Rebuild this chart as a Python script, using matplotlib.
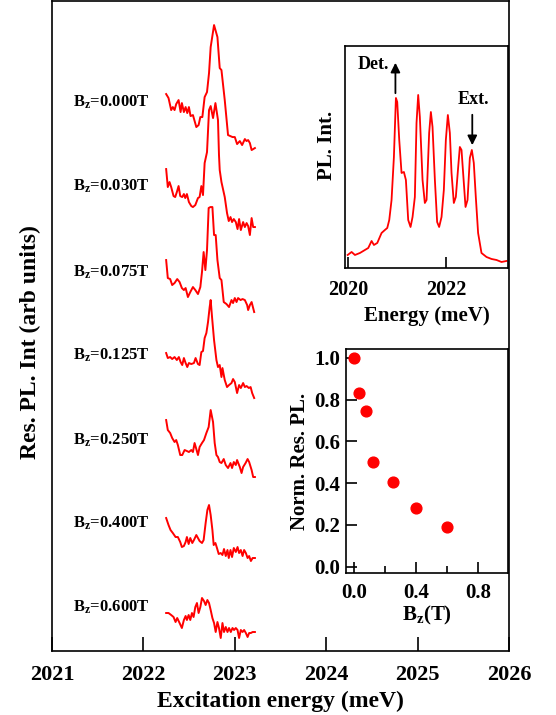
import matplotlib
matplotlib.use("Agg")
import matplotlib.pyplot as plt
import numpy as np

plt.rcParams['font.family'] = ['Liberation Serif', 'DejaVu Serif']
plt.rcParams['font.weight'] = 'bold'
plt.rcParams['mathtext.fontset'] = 'custom'
plt.rcParams['mathtext.rm'] = 'Liberation Serif:bold'
plt.rcParams['mathtext.bf'] = 'Liberation Serif:bold'
plt.rcParams['mathtext.it'] = 'Liberation Serif:bold'

RED = '#ff0000'

# ---- resonant PL traces (excitation energy in meV, intensity in arb units) ----
fields = ['0.000', '0.030', '0.075', '0.125', '0.250', '0.400', '0.600']
offsets = [549, 465, 379, 296, 211, 128, 44]

e_000 = [2022.249, 2022.275, 2022.304, 2022.322, 2022.341, 2022.359, 2022.385, 2022.407, 2022.421, 2022.443,
         2022.462, 2022.480, 2022.498, 2022.516, 2022.542, 2022.579, 2022.604, 2022.623, 2022.645, 2022.670,
         2022.696, 2022.718, 2022.736, 2022.773, 2022.810, 2022.835, 2022.854, 2022.890, 2022.926, 2022.975,
         2023.000, 2023.025, 2023.055, 2023.080, 2023.110, 2023.128, 2023.146, 2023.165, 2023.184, 2023.220]
i_000 = [8, 4, -8, -5, -8, -2, 2, -10, -1, -10, -5, -11, -5, -14, -13, -25, -23, -15, -15, 5,
         10, 29, 55, 77, 65, 34, 32, 2, -33, -35, -35, -42, -39, -43, -37, -39, -38, -41, -48, -46]

e_030 = [2022.249, 2022.267, 2022.286, 2022.304, 2022.330, 2022.348, 2022.366, 2022.385, 2022.403, 2022.425,
         2022.443, 2022.458, 2022.476, 2022.498, 2022.524, 2022.542, 2022.568, 2022.597, 2022.615, 2022.634,
         2022.652, 2022.670, 2022.689, 2022.696, 2022.718, 2022.736, 2022.762, 2022.788, 2022.816, 2022.827,
         2022.835, 2022.854, 2022.890, 2022.915, 2022.934, 2022.953, 2022.970, 2022.989, 2023.011, 2023.030,
         2023.047, 2023.066, 2023.091, 2023.110, 2023.129, 2023.146, 2023.165, 2023.184, 2023.201, 2023.220]
i_030 = [17, -1, 4, -1, -10, -11, -6, 0, -10, -11, -8, -12, -8, -16, -20, -21, -19, -12, -11, 0,
         -9, 23, 31, 34, 76, 80, 68, 83, 66, 31, 16, 4, -11, -27, -35, -31, -36, -33, -36, -43,
         -33, -44, -36, -41, -37, -40, -49, -32, -41, -41]

e_075 = [2022.249, 2022.267, 2022.293, 2022.315, 2022.341, 2022.370, 2022.396, 2022.421, 2022.443, 2022.462,
         2022.487, 2022.513, 2022.542, 2022.568, 2022.597, 2022.623, 2022.641, 2022.659, 2022.678, 2022.696,
         2022.714, 2022.733, 2022.755, 2022.773, 2022.791, 2022.810, 2022.835, 2022.854, 2022.879, 2022.909,
         2022.937, 2022.964, 2022.981, 2023.000, 2023.019, 2023.036, 2023.063, 2023.085, 2023.110, 2023.135,
         2023.146, 2023.165, 2023.184, 2023.212]
i_075 = [12, -6, -7, -13, -11, -7, -10, -16, -18, -16, -25, -20, -15, -18, -22, -15, 0, 20, 2, 22,
         64, 65, 65, 37, 37, 12, -6, -8, -30, -32, -35, -28, -31, -26, -30, -26, -28, -27, -28, -33,
         -38, -33, -30, -40]

e_125 = [2022.249, 2022.267, 2022.293, 2022.315, 2022.341, 2022.366, 2022.388, 2022.407, 2022.425, 2022.443,
         2022.462, 2022.480, 2022.498, 2022.524, 2022.553, 2022.571, 2022.597, 2022.615, 2022.634, 2022.652,
         2022.670, 2022.689, 2022.707, 2022.725, 2022.736, 2022.751, 2022.773, 2022.799, 2022.816, 2022.835,
         2022.854, 2022.865, 2022.890, 2022.915, 2022.937, 2022.964, 2022.981, 2023.000, 2023.025, 2023.047,
         2023.066, 2023.091, 2023.110, 2023.129, 2023.154, 2023.173, 2023.190, 2023.212]
i_125 = [2, -3, -2, -4, -2, -5, -2, -7, -10, -3, -8, -12, -8, -9, -8, -3, -9, -10, 3, 4,
         17, 22, 33, 48, 55, 38, 15, -5, -12, -10, -22, -13, -25, -32, -30, -28, -24, -27, -38, -30,
         -33, -28, -32, -31, -33, -32, -38, -43]

e_250 = [2022.249, 2022.267, 2022.293, 2022.315, 2022.341, 2022.359, 2022.377, 2022.403, 2022.425, 2022.451,
         2022.476, 2022.498, 2022.524, 2022.542, 2022.560, 2022.579, 2022.597, 2022.615, 2022.641, 2022.663,
         2022.689, 2022.714, 2022.736, 2022.762, 2022.780, 2022.799, 2022.816, 2022.835, 2022.854, 2022.879,
         2022.901, 2022.926, 2022.953, 2022.970, 2022.989, 2023.011, 2023.025, 2023.055, 2023.074, 2023.091,
         2023.118, 2023.140, 2023.157, 2023.184, 2023.201, 2023.220]
i_250 = [20, 10, 7, 2, -2, 0, -5, -15, -15, -10, -11, -12, -10, -12, -3, -9, -15, -7, -3, 0,
         7, 13, 30, 18, -3, -15, -17, -22, -23, -19, -25, -28, -23, -28, -22, -25, -20, -27, -33, -27,
         -23, -19, -22, -30, -37, -37]

e_400 = [2022.249, 2022.275, 2022.297, 2022.322, 2022.352, 2022.377, 2022.403, 2022.421, 2022.443, 2022.462,
         2022.476, 2022.495, 2022.513, 2022.535, 2022.553, 2022.579, 2022.597, 2022.615, 2022.641, 2022.659,
         2022.681, 2022.700, 2022.718, 2022.736, 2022.755, 2022.769, 2022.788, 2022.805, 2022.824, 2022.846,
         2022.865, 2022.882, 2022.901, 2022.920, 2022.934, 2022.953, 2022.970, 2022.989, 2023.011, 2023.030,
         2023.047, 2023.066, 2023.085, 2023.102, 2023.121, 2023.140, 2023.157, 2023.176, 2023.195, 2023.220]
i_400 = [5, -2, -7, -10, -14, -14, -19, -24, -23, -19, -14, -21, -15, -20, -17, -12, -15, -18, -20, -17,
         0, 13, 18, 8, -7, -22, -20, -25, -31, -30, -32, -26, -33, -27, -35, -27, -34, -25, -29, -24,
         -30, -27, -33, -27, -30, -35, -33, -38, -35, -35]

e_600 = [2022.249, 2022.275, 2022.304, 2022.330, 2022.352, 2022.370, 2022.396, 2022.421, 2022.443, 2022.462,
         2022.476, 2022.495, 2022.513, 2022.531, 2022.549, 2022.568, 2022.586, 2022.604, 2022.623, 2022.641,
         2022.663, 2022.681, 2022.700, 2022.718, 2022.736, 2022.755, 2022.773, 2022.791, 2022.810, 2022.827,
         2022.846, 2022.865, 2022.882, 2022.901, 2022.920, 2022.937, 2022.956, 2022.975, 2022.992, 2023.011,
         2023.030, 2023.047, 2023.066, 2023.085, 2023.102, 2023.121, 2023.140, 2023.157, 2023.176, 2023.195,
         2023.220]
i_600 = [-6, -6, -8, -10, -15, -11, -16, -21, -13, -9, -13, -8, -13, -6, -10, 0, 4, -6, 0, 9,
         6, 2, 7, 4, -3, -11, -16, -25, -15, -21, -31, -16, -25, -20, -25, -21, -25, -21, -23, -21,
         -23, -31, -23, -25, -23, -26, -30, -26, -26, -25, -25]

trace_e = [e_000, e_030, e_075, e_125, e_250, e_400, e_600]
trace_i = [i_000, i_030, i_075, i_125, i_250, i_400, i_600]

# ---- PL spectrum (inset, top) ----
pl_e = [2019.994, 2020.075, 2020.143, 2020.245, 2020.347, 2020.415, 2020.483, 2020.531, 2020.599, 2020.687,
        2020.755, 2020.803, 2020.844, 2020.891, 2020.939, 2020.980, 2021.007, 2021.048, 2021.095, 2021.143,
        2021.184, 2021.231, 2021.279, 2021.320, 2021.367, 2021.401, 2021.435, 2021.469, 2021.524, 2021.571,
        2021.606, 2021.659, 2021.694, 2021.728, 2021.776, 2021.822, 2021.863, 2021.912, 2021.959, 2022.000,
        2022.041, 2022.082, 2022.116, 2022.163, 2022.204, 2022.252, 2022.286, 2022.320, 2022.353, 2022.402,
        2022.443, 2022.490, 2022.531, 2022.571, 2022.612, 2022.659, 2022.728, 2022.830, 2022.933, 2023.035,
        2023.137, 2023.239]
pl_i = [13, 16, 13, 15, 18, 20, 27, 23, 25, 35,
        38, 40, 48, 68, 111, 170, 166, 128, 95, 96,
        88, 48, 41, 51, 71, 145, 173, 151, 88, 65,
        68, 135, 156, 141, 88, 46, 41, 51, 78, 128,
        153, 135, 95, 65, 71, 101, 121, 118, 95, 61,
        68, 110, 118, 105, 71, 35, 15, 11, 9, 8,
        6, 7]

# ---- normalised resonant PL vs field (inset, bottom) ----
bz = [0.0, 0.03, 0.075, 0.125, 0.25, 0.4, 0.6]
norm_pl = [1.0, 0.83, 0.745, 0.50, 0.405, 0.28, 0.19]

fig = plt.figure(figsize=(5.56, 7.15), dpi=100)

# main panel
ax = fig.add_axes([0.0935, 0.0895, 0.822, 0.909])
for e, i, off, b in zip(trace_e, trace_i, offsets, fields):
    ax.plot(e, np.array(i) + off, color=RED, lw=1.4)
    ax.text(2021.65, off, r'$\mathbf{B_z}$=' + b + 'T', ha='center', va='center',
            fontsize=12, fontweight='bold')
ax.set_xlim(2021, 2026)
ax.set_ylim(0, 650)
ax.set_xticks([2021, 2022, 2023, 2024, 2025, 2026])
ax.set_yticks([])
ax.tick_params(axis='x', direction='in', length=10, width=1.2, labelsize=16, pad=10)
for s in ax.spines.values():
    s.set_linewidth(1.2)
ax.set_xlabel('Excitation energy (meV)', fontsize=17, fontweight='bold', labelpad=4)
ax.set_ylabel('Res. PL. Int (arb units)', fontsize=17, fontweight='bold', labelpad=8, y=0.475)

# top inset: PL spectrum
ax1 = fig.add_axes([0.6205, 0.6252, 0.2932, 0.3105])
ax1.plot(pl_e, pl_i, color=RED, lw=1.3)
ax1.set_xlim(2019.94, 2023.27)
ax1.set_ylim(0, 222)
ax1.set_xticks([2020, 2022])
ax1.set_yticks([])
ax1.tick_params(axis='x', direction='in', length=8, width=1.2, labelsize=14.5, pad=9)
for s in ax1.spines.values():
    s.set_linewidth(1.2)
ax1.set_xlabel('Energy (meV)', fontsize=15, fontweight='bold', labelpad=4)
ax1.set_ylabel('PL. Int.', fontsize=15, fontweight='bold', labelpad=6, y=0.55)
ax1.annotate('', xy=(2020.97, 208), xytext=(2020.97, 172),
             arrowprops=dict(arrowstyle='-|>', color='black', lw=1.3, mutation_scale=14))
ax1.text(2020.52, 203, 'Det.', ha='center', va='center', fontsize=13, fontweight='bold')
ax1.annotate('', xy=(2022.54, 120), xytext=(2022.54, 156),
             arrowprops=dict(arrowstyle='-|>', color='black', lw=1.3, mutation_scale=14))
ax1.text(2022.56, 168, 'Ext.', ha='center', va='center', fontsize=13, fontweight='bold')

# bottom inset: normalised resonant PL
ax2 = fig.add_axes([0.6223, 0.1986, 0.2914, 0.3133])
ax2.scatter(bz, norm_pl, s=60, color=RED, zorder=3)
ax2.set_xlim(-0.052, 0.994)
ax2.set_ylim(-0.03, 1.042)
ax2.set_xticks([0.0, 0.4, 0.8])
ax2.set_xticks([0.2, 0.6], minor=True)
ax2.set_yticks([0.0, 0.2, 0.4, 0.6, 0.8, 1.0])
ax2.xaxis.set_major_formatter(matplotlib.ticker.FormatStrFormatter('%.1f'))
ax2.yaxis.set_major_formatter(matplotlib.ticker.FormatStrFormatter('%.1f'))
ax2.tick_params(axis='both', which='major', direction='in', length=8, width=1.2, labelsize=15, pad=4)
ax2.tick_params(axis='x', which='major', pad=7)
ax2.tick_params(axis='x', which='minor', direction='in', length=5, width=1.2)
for s in ax2.spines.values():
    s.set_linewidth(1.2)
ax2.set_xlabel(r'$\mathbf{B_z}$(T)', fontsize=15, fontweight='bold', labelpad=1)
ax2.set_ylabel('Norm. Res. PL.', fontsize=15, fontweight='bold', labelpad=3)

fig.savefig('out.png', dpi=100)
